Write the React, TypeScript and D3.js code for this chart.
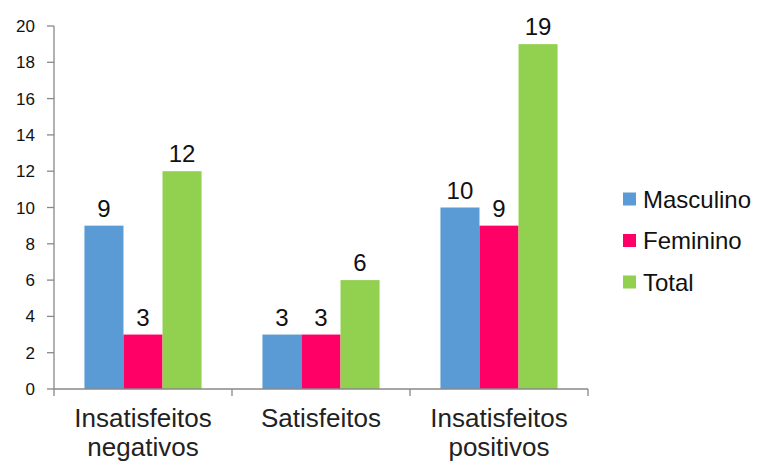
import React from "react";
import * as d3 from "d3";

const categories = [["Insatisfeitos", "negativos"], ["Satisfeitos"], ["Insatisfeitos", "positivos"]];
const seriesNames = ["Masculino", "Feminino", "Total"];
const masculino = [9, 3, 10];
const feminino = [3, 3, 9];
const total = [12, 6, 19];
const yTicks = [0, 2, 4, 6, 8, 10, 12, 14, 16, 18, 20];
const colors = ["#5B9BD5", "#FF0066", "#92D050"];

export default function App() {
  const series = [masculino, feminino, total];
  const x0 = 54, x1 = 588, yTop = 26, yBot = 389;
  const xScale = d3.scaleBand<number>().domain(categories.map((_, i) => i)).range([x0, x1]);
  const inner = d3.scaleBand<number>().domain([0, 1, 2]).range([0, xScale.bandwidth()]).paddingOuter(0.78).paddingInner(0);
  const y = d3.scaleLinear().domain([0, 20]).range([yBot, yTop]);
  const font = "'Liberation Sans', Arial, sans-serif";
  const axisColor = "#888";
  return (
    <svg width={761} height={461} style={{ position: "absolute", left: 0, top: 0 }} fontFamily={font}>
      <rect width={761} height={461} fill="#fff" />
      {series.map((vals, s) =>
        vals.map((v, i) => {
          const bx = xScale(i)! + inner(s)!;
          const w = inner.bandwidth();
          return (
            <g key={`${s}-${i}`}>
              <rect x={bx} y={y(v)} width={w} height={yBot - y(v)} fill={colors[s]} />
              <text x={bx + w / 2} y={y(v) - 9} textAnchor="middle" fontSize={24} fill="#111">{v}</text>
            </g>
          );
        })
      )}
      <line x1={x0} x2={x0} y1={yTop} y2={yBot} stroke={axisColor} strokeWidth={1.3} />
      {yTicks.map((t) => (
        <g key={t}>
          <line x1={x0 - 7} x2={x0} y1={y(t)} y2={y(t)} stroke={axisColor} strokeWidth={1.3} />
          <text x={35} y={y(t) + 6} textAnchor="end" fontSize={17} fill="#111">{t}</text>
        </g>
      ))}
      <line x1={x0} x2={x1} y1={yBot} y2={yBot} stroke={axisColor} strokeWidth={1.3} />
      {[0, 1, 2, 3].map((i) => {
        const xx = i < 3 ? xScale(i)! : x1;
        return <line key={i} x1={xx} x2={xx} y1={yBot} y2={yBot + 7} stroke={axisColor} strokeWidth={1.3} />;
      })}
      {categories.map((lines, i) => (
        <text key={i} x={xScale(i)! + xScale.bandwidth() / 2} textAnchor="middle" fontSize={26} fill="#222">
          {lines.map((l, j) => (
            <tspan key={j} x={xScale(i)! + xScale.bandwidth() / 2} y={427 + j * 29}>{l}</tspan>
          ))}
        </text>
      ))}
      {seriesNames.map((n, i) => (
        <g key={n} transform={`translate(623, ${199 + i * 41.5})`}>
          <rect x={0} y={-6.5} width={13} height={13} fill={colors[i]} />
          <text x={20} y={8.5} fontSize={24} fill="#111">{n}</text>
        </g>
      ))}
    </svg>
  );
}
